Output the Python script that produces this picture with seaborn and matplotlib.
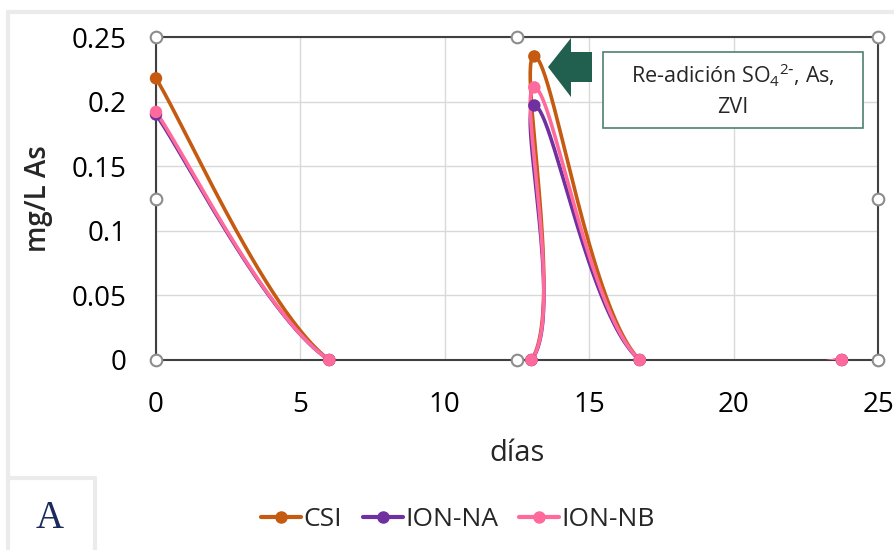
import numpy as np
import matplotlib.pyplot as plt
import matplotlib.patches as mpatches
from matplotlib.lines import Line2D
import seaborn as sns
import pandas as pd

# data
dias = [0, 6.0, 13.0, 13.1, 16.75, 23.75]
csi = [0.218, 0, 0, 0.235, 0, 0]
ion_na = [0.190, 0, 0, 0.197, 0, 0]
ion_nb = [0.192, 0, 0, 0.211, 0, 0]
series = ['CSI', 'ION-NA', 'ION-NB']
colors = {'CSI': '#C55A11', 'ION-NA': '#7030A0', 'ION-NB': '#FF6A9C'}


def excel_smooth(x, y, n=60):
    # bezier smoothing like Excel's "smoothed line"
    p = np.column_stack([x, y]).astype(float)
    out = []
    for i in range(len(p) - 1):
        p0 = p[i - 1] if i > 0 else p[i]
        p1, p2 = p[i], p[i + 1]
        p3 = p[i + 2] if i + 2 < len(p) else p[i + 1]
        c1 = p1 + (p2 - p0) / 6
        c2 = p2 - (p3 - p1) / 6
        t = np.linspace(0, 1, n)[:, None]
        seg = (1 - t) ** 3 * p1 + 3 * (1 - t) ** 2 * t * c1 + 3 * (1 - t) * t ** 2 * c2 + t ** 3 * p2
        out.append(seg if i == 0 else seg[1:])
    return np.vstack(out)


rows = []
curves = []
for name, vals in zip(series, [csi, ion_na, ion_nb]):
    for xv, yv in zip(dias, vals):
        rows.append({'dias': xv, 'mg': yv, 'serie': name})
    sm = excel_smooth(dias, vals)
    curves.append(pd.DataFrame({'dias': sm[:, 0], 'mg': sm[:, 1], 'serie': name}))
points = pd.DataFrame(rows)
curves = pd.concat(curves, ignore_index=True)

sns.set_theme(style="white")
plt.rcParams['font.family'] = ['Open Sans', 'DejaVu Sans']
plt.rcParams['mathtext.default'] = 'regular'

fig = plt.figure(figsize=(8.95, 5.5), dpi=100)
ax = fig.add_axes([156 / 895, 1 - 360 / 550, 722 / 895, 323 / 550])

for name in series:
    d = curves[curves['serie'] == name]
    sns.lineplot(data=d, x='dias', y='mg', sort=False, estimator=None, color=colors[name],
                 linewidth=2.6, ax=ax, legend=False, zorder=3)
sns.scatterplot(data=points, x='dias', y='mg', hue='serie', palette=colors, s=80,
                edgecolor='none', ax=ax, legend=False, zorder=4, clip_on=False)

ax.set_xlim(0, 25)
ax.set_ylim(0, 0.25)
ax.set_xticks([0, 5, 10, 15, 20, 25])
ax.set_yticks([0, 0.05, 0.1, 0.15, 0.2, 0.25])
ax.set_yticklabels(['0', '0.05', '0.1', '0.15', '0.2', '0.25'])
ax.grid(True, color='#D9D9D9', linewidth=1)
ax.tick_params(axis='both', labelsize=20, colors='#000000', length=0)
ax.tick_params(axis='x', pad=22)
ax.tick_params(axis='y', pad=21)
for s in ax.spines.values():
    s.set_color('#404040')
    s.set_linewidth(1.5)
ax.set_xlabel('días', fontsize=21, labelpad=15)
ax.set_ylabel('mg/L As', fontsize=20, labelpad=14, fontweight='semibold')

# selection handles of the plot area
hx = [0, 0.5, 1, 0, 1, 0, 0.5, 1]
hy = [1, 1, 1, 0.5, 0.5, 0, 0, 0]
ax.scatter(hx, hy, s=70, facecolor='white', edgecolor='#8C8C8C', linewidth=1.5,
           transform=ax.transAxes, clip_on=False, zorder=6)

# arrow and note
W, H = 895, 550
arrow = [(548, 67), (571, 38), (571, 52), (592, 52), (592, 82), (571, 82), (571, 97)]
fig.patches.append(mpatches.Polygon([(x / W, 1 - y / H) for x, y in arrow], closed=True,
                                    facecolor='#215F4E', edgecolor='none', transform=fig.transFigure))
fig.patches.append(mpatches.Rectangle((603 / W, 1 - 128 / H), 260 / W, 76 / H, facecolor='white',
                                      edgecolor='#4F8070', linewidth=1.2, transform=fig.transFigure))
fig.text(733 / W, 1 - 90 / H, r'Re-adición SO$_4$$^{2\text{-}}$, As,' + '\nZVI', ha='center', va='center',
         fontsize=15.5, linespacing=1.5)

# outer border and "A" panel
fig.add_artist(Line2D([8 / W, 1], [1 - 12 / H, 1 - 12 / H], color='#EBEBEB', linewidth=3))
fig.add_artist(Line2D([8 / W, 8 / W], [0, 1 - 12 / H], color='#EBEBEB', linewidth=3))
fig.add_artist(Line2D([8 / W, 95 / W], [1 - 478 / H, 1 - 478 / H], color='#EBEBEB', linewidth=3))
fig.add_artist(Line2D([95 / W, 95 / W], [0, 1 - 478 / H], color='#EBEBEB', linewidth=3))
fig.text(50 / W, 1 - 518 / H, 'A', ha='center', va='center', fontsize=28,
         family='Liberation Serif', color='#1B2A5C')

handles = [Line2D([0], [0], color=colors[n], linewidth=3, marker='o', markersize=8) for n in series]
fig.legend(handles, series, loc='center', bbox_to_anchor=(458 / W, 1 - 520 / H), ncol=3, frameon=False,
           fontsize=19, handlelength=1.5, handletextpad=0.1, columnspacing=0.8)

fig.savefig('out.png', dpi=100)
